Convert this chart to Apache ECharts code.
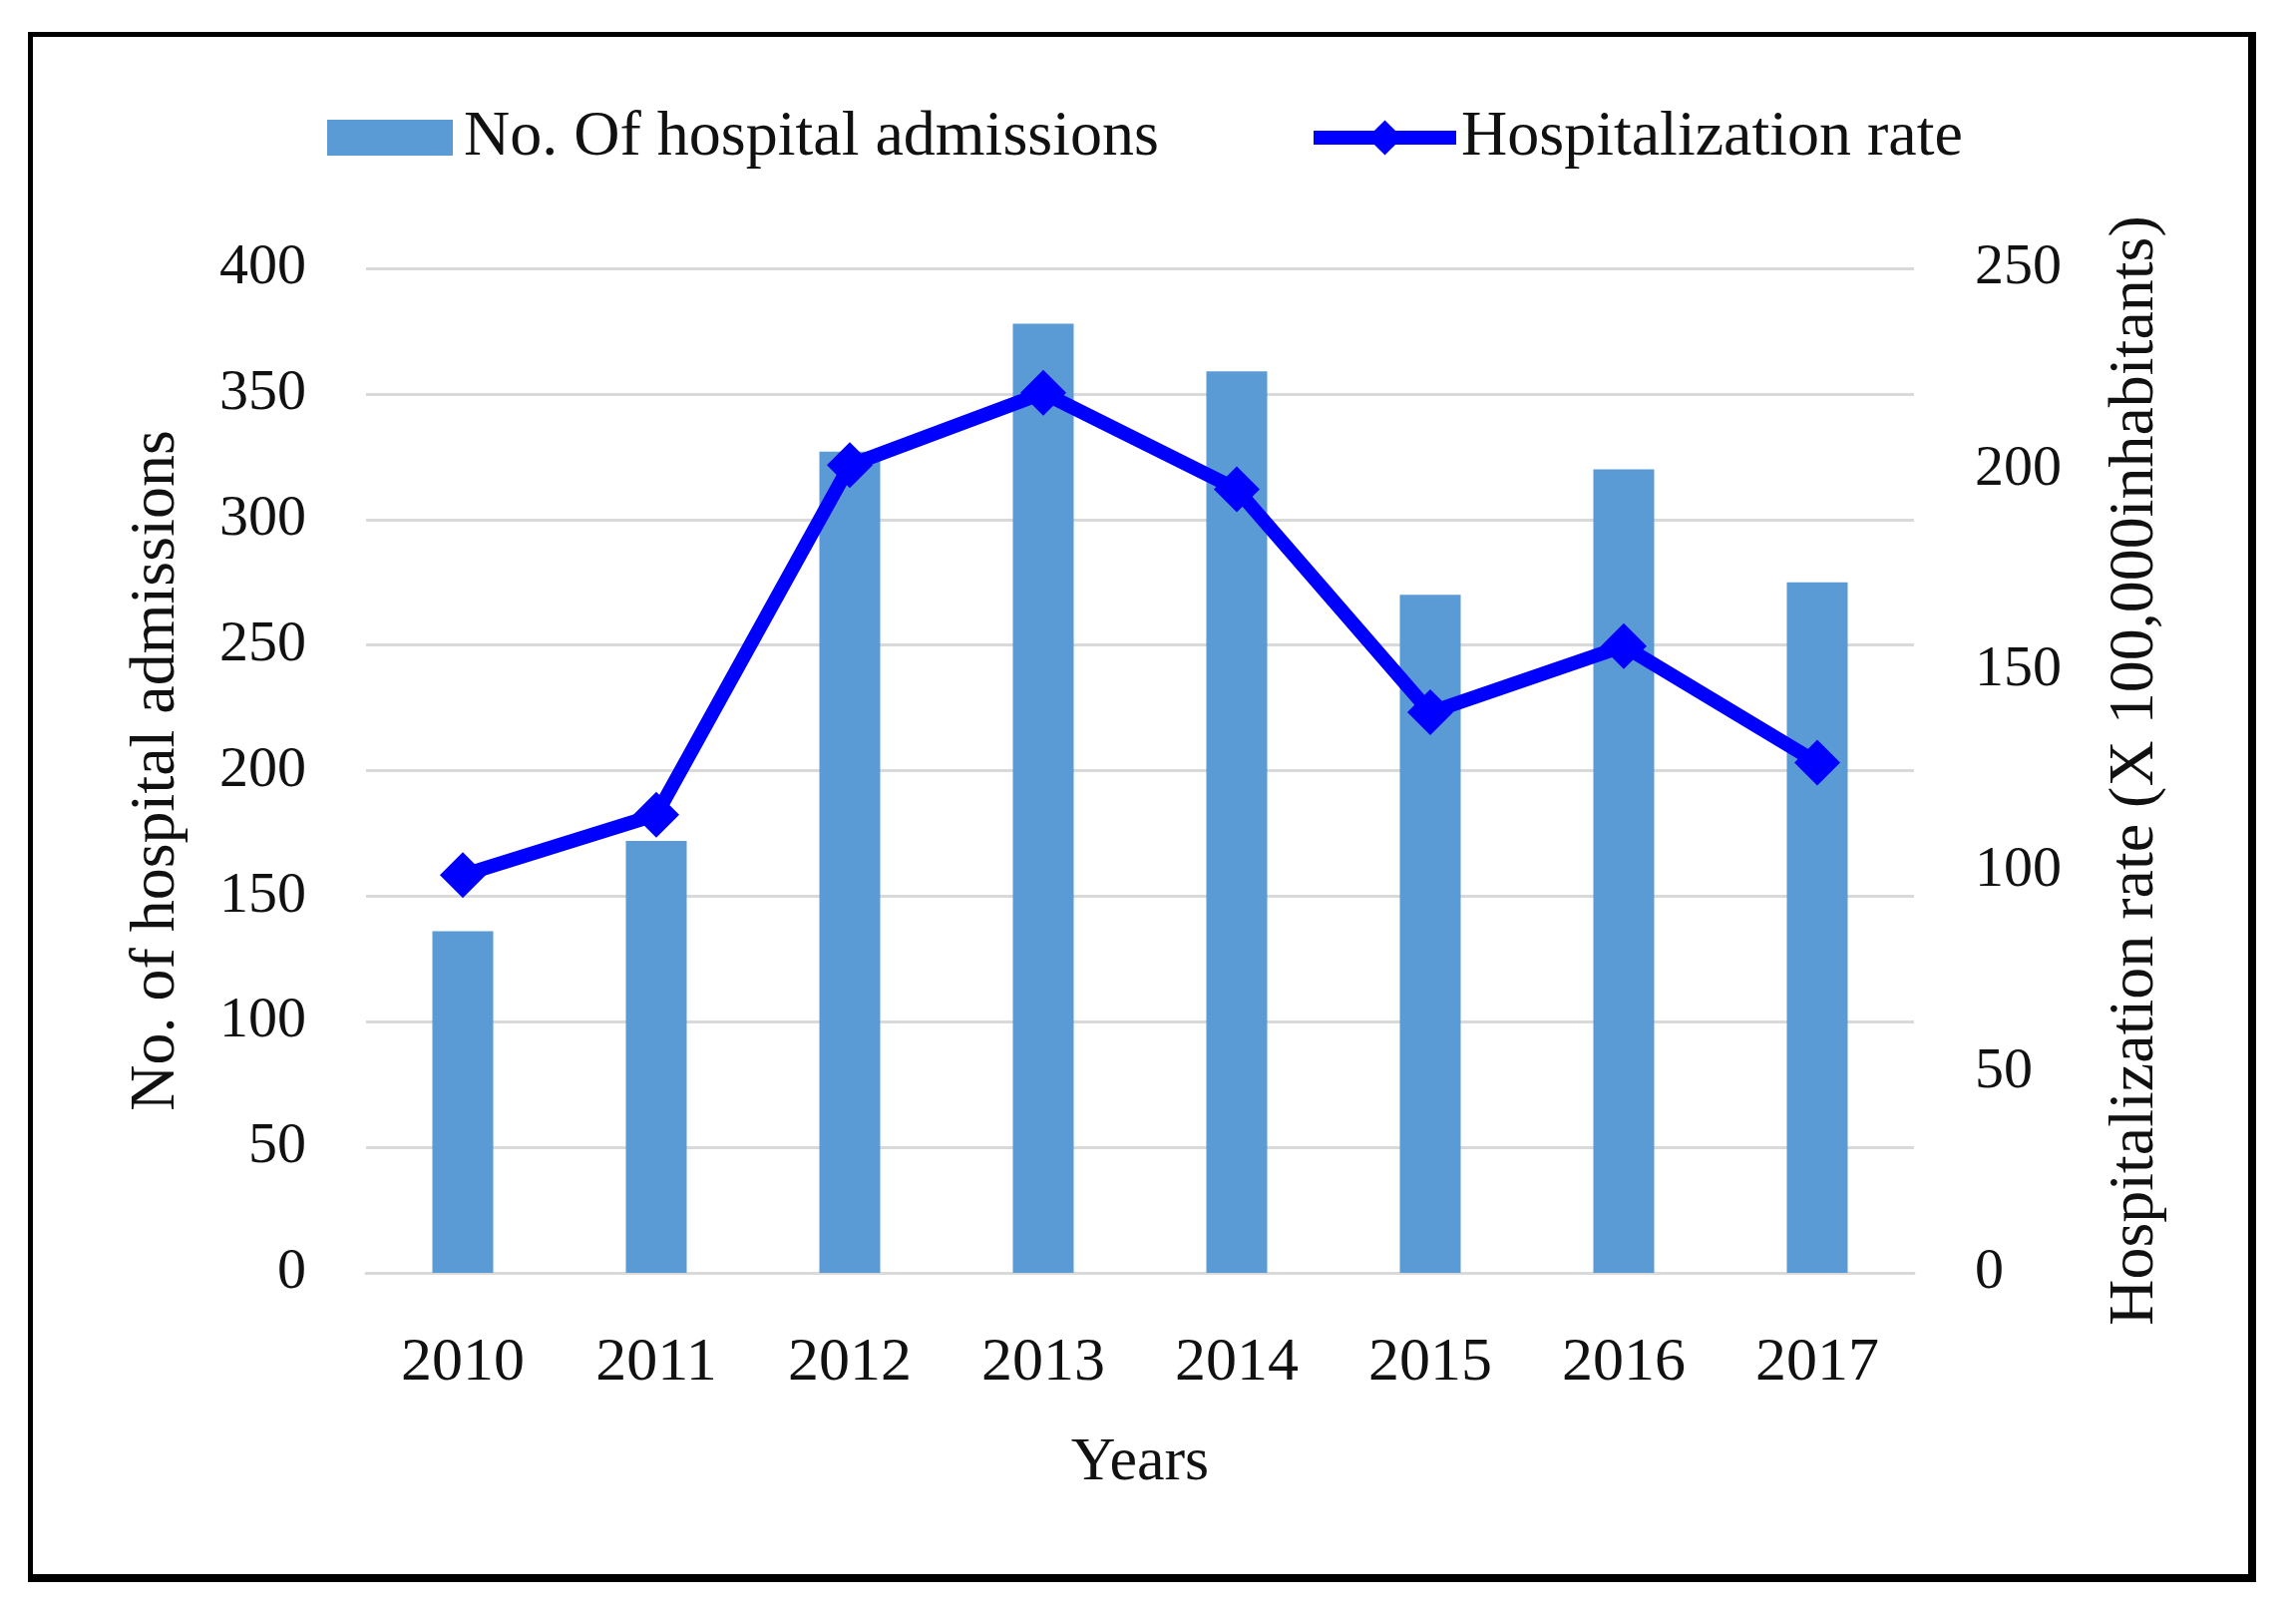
<!DOCTYPE html>
<html>
<head>
<meta charset="utf-8">
<script src="https://cdn.jsdelivr.net/npm/echarts@6/dist/echarts.min.js"></script>
<style>
html,body{margin:0;padding:0;background:#fff;}
#frame{position:absolute;left:28px;top:32px;width:2221px;height:1541px;border-style:solid;border-color:#000;border-width:5px 8px 8px 5px;}
#chart{position:absolute;left:0;top:0;width:2302px;height:1622px;}
</style>
</head>
<body>
<div id="frame"></div>
<div id="chart"></div>
<script>
const years = ['2010','2011','2012','2013','2014','2015','2016','2017'];
const admissions = [136, 172, 327, 378, 359, 270, 320, 275];
const rate = [99, 114, 201, 219, 195, 139.5, 156, 127];
const leftTicks = {min: 0, max: 400, interval: 50};
const rightTicks = {min: 0, max: 250, interval: 50};

const FONT = '"Liberation Serif", "DejaVu Serif", serif';
const TXT = '#111';
const chart = echarts.init(document.getElementById('chart'), null, {renderer: 'canvas'});
chart.setOption({
  animation: false,
  backgroundColor: 'transparent',
  textStyle: {fontFamily: FONT, color: TXT},
  legend: [
    {
      data: [{name: 'No. Of hospital admissions', icon: 'rect'}],
      left: 323, top: 101,
      itemWidth: 126, itemHeight: 36,
      textStyle: {fontFamily: FONT, fontSize: 64, color: TXT, lineHeight: 64, padding: [0,0,0,6]}
    },
    {
      data: ['Hospitalization rate'],
      left: 1305, top: 101,
      itemWidth: 143, itemHeight: 44,
      lineStyle: {width: 14, color: '#0000ff'},
      itemStyle: {color: '#0000ff'},
      textStyle: {fontFamily: FONT, fontSize: 64, color: TXT, lineHeight: 64, padding: [0,0,0,0]}
    }
  ],
  grid: {left: 367, right: 383, top: 269, bottom: 346, containLabel: false},
  xAxis: {
    type: 'category',
    data: years,
    name: 'Years',
    nameLocation: 'middle',
    nameGap: 160,
    nameTextStyle: {fontFamily: FONT, fontSize: 62, color: TXT, lineHeight: 62},
    axisLine: {show: true, lineStyle: {color: '#d9d9d9', width: 3}},
    axisTick: {show: false},
    axisLabel: {fontFamily: FONT, fontSize: 62, color: TXT, margin: 60, lineHeight: 62}
  },
  yAxis: [
    {
      type: 'value',
      min: leftTicks.min, max: leftTicks.max, interval: leftTicks.interval,
      name: 'No. of hospital admissions',
      nameLocation: 'middle',
      nameRotate: 90,
      nameGap: 178,
      nameTextStyle: {fontFamily: FONT, fontSize: 64, color: TXT},
      axisLine: {show: false},
      axisTick: {show: false},
      axisLabel: {fontFamily: FONT, fontSize: 58, color: TXT, margin: 60},
      splitLine: {show: true, lineStyle: {color: '#d9d9d9', width: 3}}
    },
    {
      type: 'value',
      min: rightTicks.min, max: rightTicks.max, interval: rightTicks.interval,
      name: 'Hospitalization rate (X 100,000inhabitants)',
      nameLocation: 'middle',
      nameRotate: 90,
      nameGap: 190,
      nameTextStyle: {fontFamily: FONT, fontSize: 64, color: TXT},
      axisLine: {show: false},
      axisTick: {show: false},
      axisLabel: {fontFamily: FONT, fontSize: 58, color: TXT, margin: 61},
      splitLine: {show: false}
    }
  ],
  series: [
    {
      name: 'No. Of hospital admissions',
      type: 'bar',
      data: admissions,
      barWidth: 61,
      itemStyle: {color: '#5b9bd5'},
      yAxisIndex: 0
    },
    {
      name: 'Hospitalization rate',
      type: 'line',
      data: rate,
      yAxisIndex: 1,
      symbol: 'diamond',
      symbolSize: 46,
      lineStyle: {color: '#0000ff', width: 14},
      itemStyle: {color: '#0000ff'}
    }
  ]
});
</script>
</body>
</html>
